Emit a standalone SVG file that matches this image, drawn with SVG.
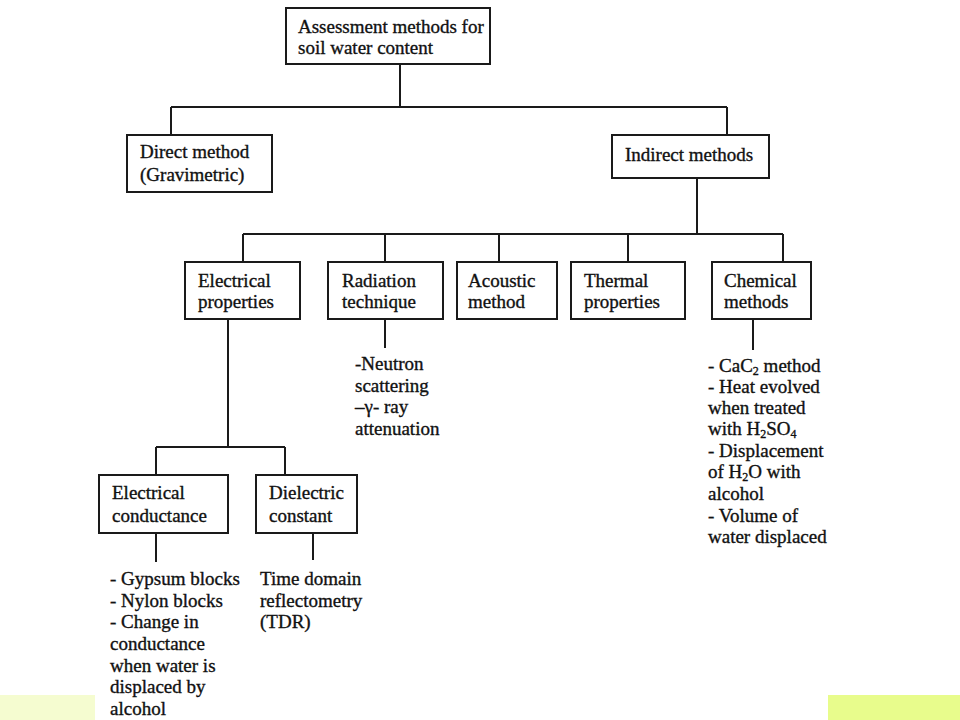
<svg xmlns="http://www.w3.org/2000/svg" width="960" height="720" viewBox="0 0 960 720">
<style>
  .box { fill: #ffffff; stroke: #1a1a1a; stroke-width: 2; }
  .ln { fill: none; stroke: #1a1a1a; stroke-width: 2; }
  text { font-family: "Liberation Serif", "Times New Roman", serif; font-size: 19px; fill: #111; stroke: #111; stroke-width: 0.35; }
  .sub { font-size: 12px; }
</style>
<rect x="0" y="0" width="960" height="720" fill="#ffffff"/>
<rect x="0" y="695" width="95" height="25" fill="#f5fcd0"/>
<rect x="828" y="695" width="132" height="25" fill="#e8fc8c"/>

<g id="connectors">
  <path class="ln" d="M400,64 V107 M171,107 H727 M171,107 V135 M727,107 V135"/>
  <path class="ln" d="M697,178 V234 M243,234 H783 M243,234 V262 M385,234 V262 M499,234 V262 M628,234 V262 M783,234 V262"/>
  <path class="ln" d="M228,319 V447 M156,447 H285 M156,447 V475 M285,447 V475"/>
  <path class="ln" d="M385,319 V348 M753,319 V350"/>
  <path class="ln" d="M156,533 V562 M313,533 V560"/>
</g>

<g id="root">
  <rect class="box" x="286" y="8" width="204" height="56"/>
  <text x="298" y="33">Assessment methods for</text>
  <text x="298" y="54">soil water content</text>
</g>
<g id="direct">
  <rect class="box" x="127" y="135" width="145" height="57"/>
  <text x="140" y="158">Direct method</text>
  <text x="140" y="181">(Gravimetric)</text>
</g>
<g id="indirect">
  <rect class="box" x="612" y="135" width="157" height="43"/>
  <text x="625" y="161">Indirect methods</text>
</g>
<g id="electrical">
  <rect class="box" x="185" y="262" width="115" height="57"/>
  <text x="198" y="287">Electrical</text>
  <text x="198" y="308">properties</text>
</g>
<g id="radiation">
  <rect class="box" x="328" y="262" width="115" height="57"/>
  <text x="342" y="287">Radiation</text>
  <text x="342" y="308">technique</text>
</g>
<g id="acoustic">
  <rect class="box" x="457" y="262" width="100" height="57"/>
  <text x="468" y="287">Acoustic</text>
  <text x="468" y="308">method</text>
</g>
<g id="thermal">
  <rect class="box" x="571" y="262" width="114" height="57"/>
  <text x="584" y="287">Thermal</text>
  <text x="584" y="308">properties</text>
</g>
<g id="chemical">
  <rect class="box" x="712" y="262" width="99" height="57"/>
  <text x="724" y="287">Chemical</text>
  <text x="724" y="308">methods</text>
</g>
<g id="radiation-notes">
  <text x="355" y="370">-Neutron</text>
  <text x="355" y="392">scattering</text>
  <text x="355" y="413">–γ- ray</text>
  <text x="355" y="435">attenuation</text>
</g>
<g id="chemical-notes">
  <text x="708" y="372">- CaC<tspan class="sub" dy="2.5">2</tspan><tspan dy="-2.5"> method</tspan></text>
  <text x="708" y="393">- Heat evolved</text>
  <text x="708" y="414">when treated</text>
  <text x="708" y="435">with H<tspan class="sub" dy="2.5">2</tspan><tspan dy="-2.5">SO</tspan><tspan class="sub" dy="2.5">4</tspan></text>
  <text x="708" y="457">- Displacement</text>
  <text x="708" y="478">of H<tspan class="sub" dy="2.5">2</tspan><tspan dy="-2.5">O with</tspan></text>
  <text x="708" y="500">alcohol</text>
  <text x="708" y="522">- Volume of</text>
  <text x="708" y="543">water displaced</text>
</g>
<g id="conductance">
  <rect class="box" x="99" y="475" width="129" height="58"/>
  <text x="112" y="499">Electrical</text>
  <text x="112" y="522">conductance</text>
</g>
<g id="dielectric">
  <rect class="box" x="256" y="475" width="101" height="58"/>
  <text x="269" y="499">Dielectric</text>
  <text x="269" y="522">constant</text>
</g>
<g id="conductance-notes">
  <text x="110" y="585">- Gypsum blocks</text>
  <text x="110" y="607">- Nylon blocks</text>
  <text x="110" y="628">- Change in</text>
  <text x="110" y="650">conductance</text>
  <text x="110" y="672">when water is</text>
  <text x="110" y="693">displaced by</text>
  <text x="110" y="715">alcohol</text>
</g>
<g id="dielectric-notes">
  <text x="260" y="585">Time domain</text>
  <text x="260" y="607">reflectometry</text>
  <text x="260" y="628">(TDR)</text>
</g>
</svg>
